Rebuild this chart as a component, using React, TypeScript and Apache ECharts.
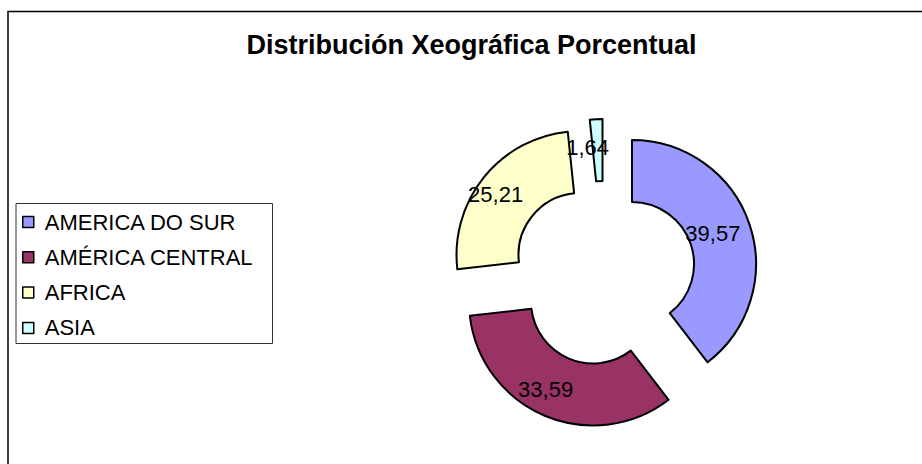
import React, { useEffect, useRef } from "react";
import * as echarts from "echarts";

const categories = ["AMERICA DO SUR", "AMÉRICA CENTRAL", "AFRICA", "ASIA"];
const values = [39.57, 33.59, 25.21, 1.64];
const colors = ["#9999FF", "#993366", "#FFFFCC", "#CCFFFF"];
// per-slice exploded centres (Excel explodes each point on its own)
const sliceCenters: [number, number][] = [
  [632, 264],
  [593, 301.5],
  [580.5, 255],
  [602.5, 243],
];
const titleText = "Distribución Xeográfica Porcentual";

const FONT = "'Liberation Sans', Arial, Helvetica, sans-serif";

export default function App() {
  const ref = useRef<HTMLDivElement>(null);
  useEffect(() => {
    document.body.style.margin = "0";
    if (!ref.current) return;
    const chart = echarts.init(ref.current, undefined, { renderer: "svg" });

    const series = categories.map((_, si) => ({
      type: "pie",
      center: sliceCenters[si],
      radius: [62, 124],
      startAngle: 90,
      clockwise: true,
      silent: true,
      avoidLabelOverlap: false,
      emphasis: { disabled: true },
      labelLine: { show: false },
      data: categories.map((name, i) => ({
        name,
        value: values[i],
        itemStyle:
          i === si
            ? { color: colors[i], borderColor: "#000", borderWidth: 2 }
            : { color: "rgba(0,0,0,0)", borderWidth: 0 },
        label:
          i === si
            ? {
                show: true,
                position: "inside",
                color: "#000",
                fontSize: 22,
                fontFamily: FONT,
                padding: [0, 20, 0, 0],
                formatter: () => values[i].toFixed(2).replace(".", ","),
              }
            : { show: false },
      })),
    }));

    chart.setOption({
      animation: false,
      backgroundColor: "#fff",
      legend: {
        orient: "vertical",
        left: 22,
        top: 211,
        padding: 0,
        itemGap: 13.3,
        itemWidth: 11,
        itemHeight: 11,
        icon: "rect",
        selectedMode: false,
        textStyle: {
          fontSize: 22,
          lineHeight: 22,
          color: "#000",
          fontFamily: FONT,
          padding: [0, 0, 0, 6],
        },
        data: categories.map((name, i) => ({
          name,
          itemStyle: { color: colors[i], borderColor: "#000", borderWidth: 1.5 },
        })),
      },
      graphic: [
        {
          type: "rect",
          shape: { x: 8, y: 11.5, width: 940, height: 480 },
          style: { fill: "none", stroke: "#000", lineWidth: 1.5 },
          silent: true,
        },
        {
          type: "rect",
          shape: { x: 16, y: 203.5, width: 256.5, height: 140 },
          style: { fill: "none", stroke: "#333", lineWidth: 1 },
          silent: true,
        },
        {
          type: "text",
          x: 471.5,
          y: 45,
          style: {
            text: titleText,
            font: `bold 27px ${FONT}`,
            fill: "#000",
            textAlign: "center",
            textVerticalAlign: "middle",
          },
          silent: true,
        },
      ],
      series,
    });
    return () => chart.dispose();
  }, []);
  return <div ref={ref} style={{ width: 922, height: 464 }} />;
}
